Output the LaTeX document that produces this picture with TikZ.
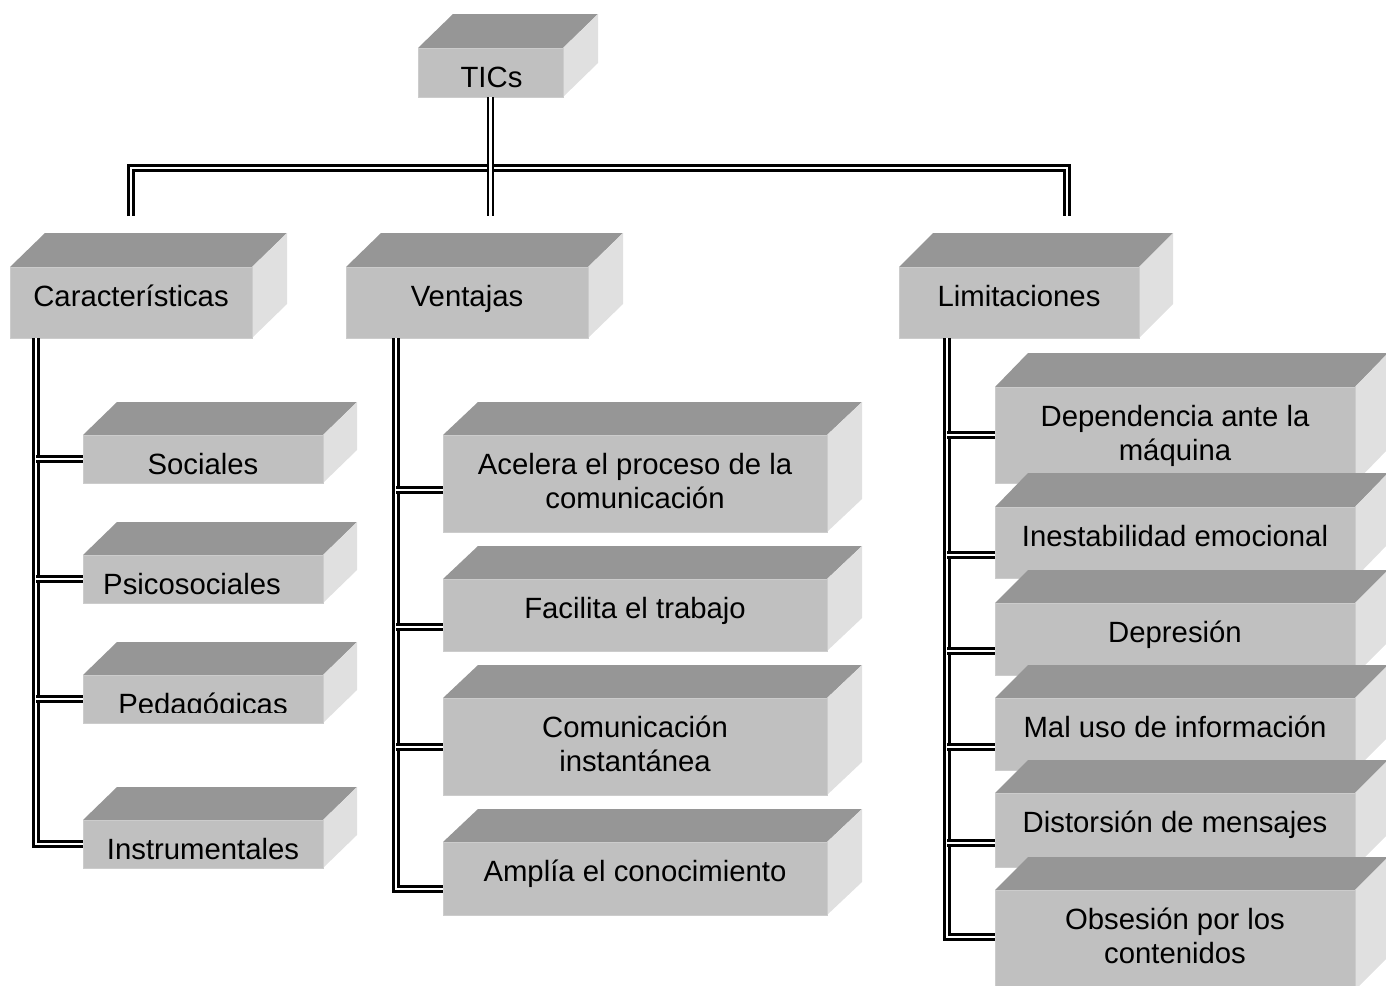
\documentclass[tikz,border=0pt]{standalone}
\usepackage{fontspec}
\setmainfont{Liberation Sans}
\usetikzlibrary{calc}
\definecolor{topc}{HTML}{969696}
\definecolor{frontc}{HTML}{C0C0C0}
\definecolor{sidec}{HTML}{E0E0E0}
\definecolor{edgec}{HTML}{CCCCCC}
\tikzset{
  frontface/.style={rectangle, fill=frontc, draw=edgec, line width=1pt, inner sep=0pt, outer sep=0pt, anchor=north west},
  topface/.style={fill=topc},
  sideface/.style={fill=sidec},
  lbl/.style={font=\fontsize{29.3}{34}\selectfont, align=center, inner sep=0pt, anchor=north, text=black},
  dbl/.style={draw=black, line width=2.5pt, double=white, double distance=2.6pt},
}
% name, x0, y0, x1, y1, dx, dy, text xshift, text
\newcommand\cubebox[9]{%
  \fill[topface] (#2,#3) -- (#2+#6,#3-#7) -- (#4+#6,#3-#7) -- (#4,#3) -- cycle;
  \fill[sideface] (#4,#3) -- (#4+#6,#3-#7) -- (#4+#6,#5-#7) -- (#4,#5) -- cycle;
  \node[frontface, minimum width={(#4-#2)*1pt}, minimum height={(#5-#3)*1pt}] (#1) at (#2,#3) {};
  \node[lbl] (#1-t) at ($(#1.north)+(#8,9.7)$) {\rule{0pt}{29.3pt}#9};
}
\begin{document}
\begin{tikzpicture}[x=1pt, y=-1pt]
\useasboundingbox (0,0) rectangle (1386,985);
\clip (0,0) rectangle (1386,985);

% root
\cubebox{tics}{418}{48}{563}{97}{35}{34}{1}{TICs}

% level 2
\cubebox{car}{10}{267}{252}{338}{35}{34}{0}{Características}
\cubebox{ven}{346}{267}{588}{338}{35}{34}{0}{Ventajas}
\cubebox{lim}{899}{267}{1139}{338}{34}{34}{0}{Limitaciones}

% Caracteristicas children
\cubebox{soc}{83}{435}{323}{483}{34}{33}{0}{Sociales}
\cubebox{psi}{83}{555}{323}{603}{34}{33}{-11}{Psicosociales}
\cubebox{ped}{83}{675}{323}{723}{34}{33}{0}{Pedagógicas}
\fill[frontc] (83.5,713) rectangle (322.5,722.5);
\cubebox{ins}{83}{820}{323}{868}{34}{33}{0}{Instrumentales}

% Ventajas children
\cubebox{ace}{443}{435}{827}{532}{35}{33}{0}{Acelera el proceso de la\\comunicación}
\cubebox{fac}{443}{579}{827}{651}{35}{33}{0}{Facilita el trabajo}
\cubebox{com}{443}{698}{827}{795}{35}{33}{0}{Comunicación\\instantánea}
\cubebox{amp}{443}{842}{827}{915}{35}{33}{0}{Amplía el conocimiento}

% Limitaciones children
\cubebox{dep}{995}{387}{1355}{483}{33}{34}{0}{Dependencia ante la\\máquina}
\cubebox{ine}{995}{507}{1355}{578}{33}{34}{0}{Inestabilidad emocional}
\cubebox{depr}{995}{603}{1355}{675}{33}{33}{0}{Depresión}
\cubebox{mal}{995}{698}{1355}{770}{33}{33}{0}{Mal uso de información}
\cubebox{dis}{995}{793}{1355}{867}{33}{33}{0}{Distorsión de mensajes}
\cubebox{obs}{995}{890}{1355}{990}{33}{33}{0}{Obsesión por los\\contenidos}

% connectors: root
\coordinate (jl) at (131,216);
\coordinate (hl) at (131,168);
\coordinate (hr) at (1067,168);
\coordinate (jr) at (1067,216);
\coordinate (jm) at (tics.south |- jl);
\draw[dbl] (jl) -- (hl) -- (hr) -- (jr);
\draw[dbl] (tics.south) -- (jm);

% Caracteristicas
\coordinate (vcar) at ($(car.south west)+(26,0)$);
\draw[dbl] (vcar) |- (ins.west);
\draw[dbl] (vcar |- soc.west) -- (soc.west);
\draw[dbl] (vcar |- psi.west) -- (psi.west);
\draw[dbl] (vcar |- ped.west) -- (ped.west);

% Ventajas
\coordinate (vven) at ($(ven.south west)+(50,0)$);
\coordinate (acep) at ($(ace.north west)+(0,55)$);
\coordinate (facp) at ($(fac.north west)+(0,48)$);
\coordinate (comp) at ($(com.north west)+(0,49)$);
\coordinate (ampp) at ($(amp.north west)+(0,47)$);
\draw[dbl] (vven) |- (ampp);
\draw[dbl] (vven |- acep) -- (acep);
\draw[dbl] (vven |- facp) -- (facp);
\draw[dbl] (vven |- comp) -- (comp);

% Limitaciones
\coordinate (vlim) at ($(lim.south west)+(48,0)$);
\coordinate (depp) at ($(dep.north west)+(0,48)$);
\coordinate (inep) at ($(ine.north west)+(0,48)$);
\coordinate (deprp) at ($(depr.north west)+(0,48)$);
\coordinate (malp) at ($(mal.north west)+(0,49)$);
\coordinate (disp) at ($(dis.north west)+(0,50)$);
\coordinate (obsp) at ($(obs.north west)+(0,47)$);
\draw[dbl] (vlim) |- (obsp);
\draw[dbl] (vlim |- depp) -- (depp);
\draw[dbl] (vlim |- inep) -- (inep);
\draw[dbl] (vlim |- deprp) -- (deprp);
\draw[dbl] (vlim |- malp) -- (malp);
\draw[dbl] (vlim |- disp) -- (disp);
\end{tikzpicture}
\end{document}
